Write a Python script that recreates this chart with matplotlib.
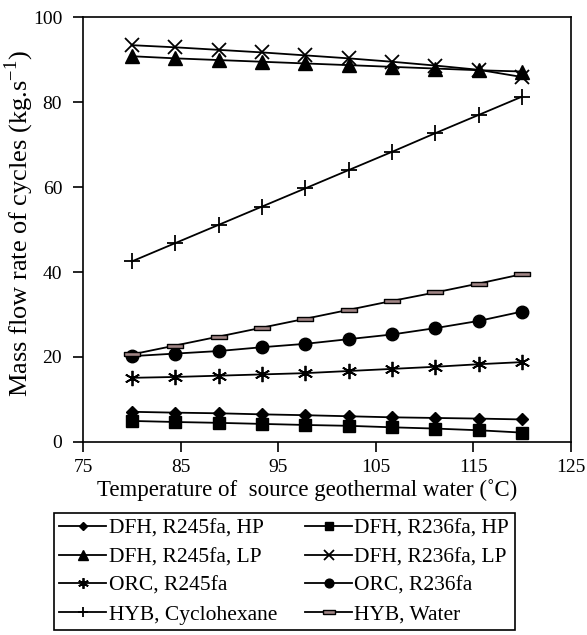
import matplotlib
matplotlib.use("Agg")
import matplotlib.pyplot as plt

plt.rcParams['font.family'] = ['Liberation Serif', 'DejaVu Serif']
plt.rcParams['mathtext.fontset'] = 'custom'
plt.rcParams['mathtext.rm'] = 'Liberation Serif'

temps = [80, 84.44, 88.89, 93.33, 97.78, 102.22, 106.67, 111.11, 115.56, 120]

dfh_r245fa_hp = [7.1, 6.9, 6.75, 6.5, 6.3, 6.05, 5.8, 5.65, 5.5, 5.3]
dfh_r236fa_hp = [4.95, 4.7, 4.5, 4.25, 4.0, 3.8, 3.45, 3.15, 2.75, 2.2]
dfh_r245fa_lp = [90.8, 90.3, 89.9, 89.5, 89.1, 88.7, 88.3, 87.9, 87.5, 87.2]
dfh_r236fa_lp = [93.4, 92.9, 92.3, 91.7, 91.0, 90.3, 89.5, 88.6, 87.6, 85.9]
orc_r245fa = [15.1, 15.3, 15.6, 15.9, 16.2, 16.7, 17.2, 17.7, 18.3, 18.8]
orc_r236fa = [20.2, 20.8, 21.4, 22.3, 23.1, 24.2, 25.3, 26.8, 28.5, 30.7]
hyb_cyclohexane = [42.5, 46.8, 51.1, 55.4, 59.7, 64.0, 68.3, 72.7, 77.0, 81.3]
hyb_water = [20.6, 22.7, 24.8, 26.9, 29.0, 31.1, 33.2, 35.2, 37.3, 39.5]

labels = ["DFH, R245fa, HP", "DFH, R236fa, HP", "DFH, R245fa, LP", "DFH, R236fa, LP",
          "ORC, R245fa", "ORC, R236fa", "HYB, Cyclohexane", "HYB, Water"]

xticks = [75, 85, 95, 105, 115, 125]
yticks = [0, 20, 40, 60, 80, 100]

rect = [(-1, -0.28), (1, -0.28), (1, 0.28), (-1, 0.28), (-1, -0.28)]

series = [
    (dfh_r245fa_hp, dict(marker='D', ms=6, mfc='black', mec='black')),
    (dfh_r236fa_hp, dict(marker='s', ms=8, mfc='black', mec='black')),
    (dfh_r245fa_lp, dict(marker='^', ms=10, mfc='black', mec='black')),
    (dfh_r236fa_lp, dict(marker='x', ms=10, mew=1.3, mec='black')),
    (orc_r245fa, dict(marker=(6, 2, 0), ms=11, mew=1.3, mec='black')),
    (orc_r236fa, dict(marker='o', ms=9, mfc='black', mec='black')),
    (hyb_cyclohexane, dict(marker='+', ms=11, mew=1.3, mec='black')),
    (hyb_water, dict(marker=rect, ms=12, mfc='#a08585', mec='black', mew=1.0)),
]

fig = plt.figure(figsize=(5.87, 6.35), dpi=100)
ax = fig.add_axes([0.1414, 0.304, 0.8313, 0.669])

handles = []
for (vals, st), lab in zip(series, labels):
    h, = ax.plot(temps, vals, color='black', lw=1.3, label=lab, **st)
    handles.append(h)

ax.set_xlim(75, 125)
ax.set_ylim(0, 100)
ax.set_xticks(xticks)
ax.set_yticks(yticks)
ax.tick_params(direction='out', length=7, width=1.2, labelsize=14)
ax.tick_params(axis='y', pad=8)
ax.tick_params(axis='x', pad=5)
for sp in ax.spines.values():
    sp.set_linewidth(1.2)

ax.set_xlabel("Temperature of  source geothermal water (˚C)", fontsize=16.5)
ax.xaxis.set_label_coords(0.46, -0.088)
ax.set_ylabel("Mass flow rate of cycles (kg.s$^{-1}$)", fontsize=19)
ax.yaxis.set_label_coords(-0.097, 0.515)

# matplotlib fills legend column-wise; reorder so rows read as in the reference
order = [0, 2, 4, 6, 1, 3, 5, 7]
leg = fig.legend(handles=[handles[i] for i in order], labels=[labels[i] for i in order],
                 ncol=2, loc='upper center',
                 bbox_to_anchor=(0.484, 0.192), borderaxespad=0, fontsize=15.5,
                 frameon=True, fancybox=False, edgecolor='black', framealpha=1,
                 markerscale=0.7, handlelength=2.2, handletextpad=0.1,
                 columnspacing=1.3, labelspacing=0.4, borderpad=0.25)
leg.get_frame().set_linewidth(1.2)

fig.savefig("out.png", dpi=100)
